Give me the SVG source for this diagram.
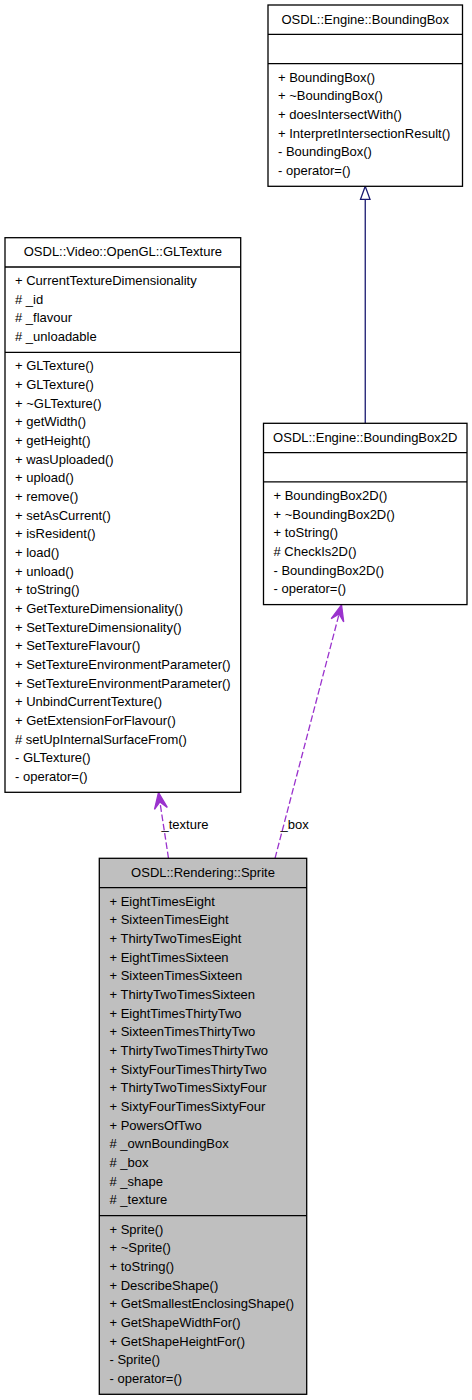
<svg xmlns="http://www.w3.org/2000/svg" width="472" height="1400" viewBox="0 0 472 1400">
<style>
text{font-family:"Liberation Sans",Arial,Helvetica,sans-serif;font-size:13px;fill:#000}
.t{text-anchor:middle}
.box{fill:#fff;stroke:#000;stroke-width:1.3}
.gray{fill:#bfbfbf}
.div{stroke:#000;stroke-width:1.3}
.inh{stroke:#191970;stroke-width:1.3;fill:none}
.use{stroke:#9a32cd;stroke-width:1.3;fill:none;stroke-dasharray:6.7,2.7}
.head{fill:#9a32cd;stroke:#9a32cd;stroke-width:1.3}
</style>
<rect width="472" height="1400" fill="#fff"/>
<g id="connectors">
<line class="inh" x1="365.25" y1="199.3" x2="365.25" y2="423.3"/>
<polygon points="365.25,186.3 360.5,199.3 370,199.3" fill="#fff" stroke="#191970" stroke-width="1.3"/>
<line class="use" x1="168.5" y1="858.3" x2="159.9" y2="801.9"/>
<polygon class="head" points="158.5,792.5 154.5,809.3 159.9,801.9 167.3,807.4"/>
<text x="161.5" y="828.5">_texture</text>
<line class="use" x1="275" y1="858.3" x2="339.1" y2="614"/>
<polygon class="head" points="341.5,604.8 331.2,618.6 339.1,614 343.7,621.9"/>
<text x="280.5" y="828.5">_box</text>
</g>
<g id="BoundingBox">
<rect class="box" x="268" y="5" width="194.5" height="181.3"/>
<line class="div" x1="268" y1="34.3" x2="462.5" y2="34.3"/>
<line class="div" x1="268" y1="63.6" x2="462.5" y2="63.6"/>
<text class="t" x="365.25" y="23.7">OSDL::Engine::BoundingBox</text>
<text x="278" y="81.6">+ BoundingBox()<tspan x="278" dy="18.667">+ ~BoundingBox()</tspan><tspan x="278" dy="18.667">+ doesIntersectWith()</tspan><tspan x="278" dy="18.667">+ InterpretIntersectionResult()</tspan><tspan x="278" dy="18.667">- BoundingBox()</tspan><tspan x="278" dy="18.667">- operator=()</tspan></text>
</g>
<g id="GLTexture">
<rect class="box" x="5" y="237.7" width="235.7" height="554.6"/>
<line class="div" x1="5" y1="267" x2="240.7" y2="267"/>
<line class="div" x1="5" y1="352.3" x2="240.7" y2="352.3"/>
<text class="t" x="122.85" y="256.4">OSDL::Video::OpenGL::GLTexture</text>
<text x="15" y="285">+ CurrentTextureDimensionality<tspan x="15" dy="18.667"># _id</tspan><tspan x="15" dy="18.667"># _flavour</tspan><tspan x="15" dy="18.667"># _unloadable</tspan></text>
<text x="15" y="370.3">+ GLTexture()<tspan x="15" dy="18.667">+ GLTexture()</tspan><tspan x="15" dy="18.667">+ ~GLTexture()</tspan><tspan x="15" dy="18.667">+ getWidth()</tspan><tspan x="15" dy="18.667">+ getHeight()</tspan><tspan x="15" dy="18.667">+ wasUploaded()</tspan><tspan x="15" dy="18.667">+ upload()</tspan><tspan x="15" dy="18.667">+ remove()</tspan><tspan x="15" dy="18.667">+ setAsCurrent()</tspan><tspan x="15" dy="18.667">+ isResident()</tspan><tspan x="15" dy="18.667">+ load()</tspan><tspan x="15" dy="18.667">+ unload()</tspan><tspan x="15" dy="18.667">+ toString()</tspan><tspan x="15" dy="18.667">+ GetTextureDimensionality()</tspan><tspan x="15" dy="18.667">+ SetTextureDimensionality()</tspan><tspan x="15" dy="18.667">+ SetTextureFlavour()</tspan><tspan x="15" dy="18.667">+ SetTextureEnvironmentParameter()</tspan><tspan x="15" dy="18.667">+ SetTextureEnvironmentParameter()</tspan><tspan x="15" dy="18.667">+ UnbindCurrentTexture()</tspan><tspan x="15" dy="18.667">+ GetExtensionForFlavour()</tspan><tspan x="15" dy="18.667"># setUpInternalSurfaceFrom()</tspan><tspan x="15" dy="18.667">- GLTexture()</tspan><tspan x="15" dy="18.667">- operator=()</tspan></text>
</g>
<g id="BoundingBox2D">
<rect class="box" x="263.5" y="423.3" width="203.5" height="181.3"/>
<line class="div" x1="263.5" y1="452.6" x2="467" y2="452.6"/>
<line class="div" x1="263.5" y1="481.9" x2="467" y2="481.9"/>
<text class="t" x="365.25" y="442">OSDL::Engine::BoundingBox2D</text>
<text x="273.5" y="499.9">+ BoundingBox2D()<tspan x="273.5" dy="18.667">+ ~BoundingBox2D()</tspan><tspan x="273.5" dy="18.667">+ toString()</tspan><tspan x="273.5" dy="18.667"># CheckIs2D()</tspan><tspan x="273.5" dy="18.667">- BoundingBox2D()</tspan><tspan x="273.5" dy="18.667">- operator=()</tspan></text>
</g>
<g id="Sprite">
<rect class="box gray" x="99.3" y="858.3" width="207.4" height="536"/>
<line class="div" x1="99.3" y1="887.6" x2="306.7" y2="887.6"/>
<line class="div" x1="99.3" y1="1215.7" x2="306.7" y2="1215.7"/>
<text class="t" x="203" y="877">OSDL::Rendering::Sprite</text>
<text x="109.5" y="905.6">+ EightTimesEight<tspan x="109.5" dy="18.667">+ SixteenTimesEight</tspan><tspan x="109.5" dy="18.667">+ ThirtyTwoTimesEight</tspan><tspan x="109.5" dy="18.667">+ EightTimesSixteen</tspan><tspan x="109.5" dy="18.667">+ SixteenTimesSixteen</tspan><tspan x="109.5" dy="18.667">+ ThirtyTwoTimesSixteen</tspan><tspan x="109.5" dy="18.667">+ EightTimesThirtyTwo</tspan><tspan x="109.5" dy="18.667">+ SixteenTimesThirtyTwo</tspan><tspan x="109.5" dy="18.667">+ ThirtyTwoTimesThirtyTwo</tspan><tspan x="109.5" dy="18.667">+ SixtyFourTimesThirtyTwo</tspan><tspan x="109.5" dy="18.667">+ ThirtyTwoTimesSixtyFour</tspan><tspan x="109.5" dy="18.667">+ SixtyFourTimesSixtyFour</tspan><tspan x="109.5" dy="18.667">+ PowersOfTwo</tspan><tspan x="109.5" dy="18.667"># _ownBoundingBox</tspan><tspan x="109.5" dy="18.667"># _box</tspan><tspan x="109.5" dy="18.667"># _shape</tspan><tspan x="109.5" dy="18.667"># _texture</tspan></text>
<text x="109.5" y="1233.7">+ Sprite()<tspan x="109.5" dy="18.667">+ ~Sprite()</tspan><tspan x="109.5" dy="18.667">+ toString()</tspan><tspan x="109.5" dy="18.667">+ DescribeShape()</tspan><tspan x="109.5" dy="18.667">+ GetSmallestEnclosingShape()</tspan><tspan x="109.5" dy="18.667">+ GetShapeWidthFor()</tspan><tspan x="109.5" dy="18.667">+ GetShapeHeightFor()</tspan><tspan x="109.5" dy="18.667">- Sprite()</tspan><tspan x="109.5" dy="18.667">- operator=()</tspan></text>
</g>
</svg>
